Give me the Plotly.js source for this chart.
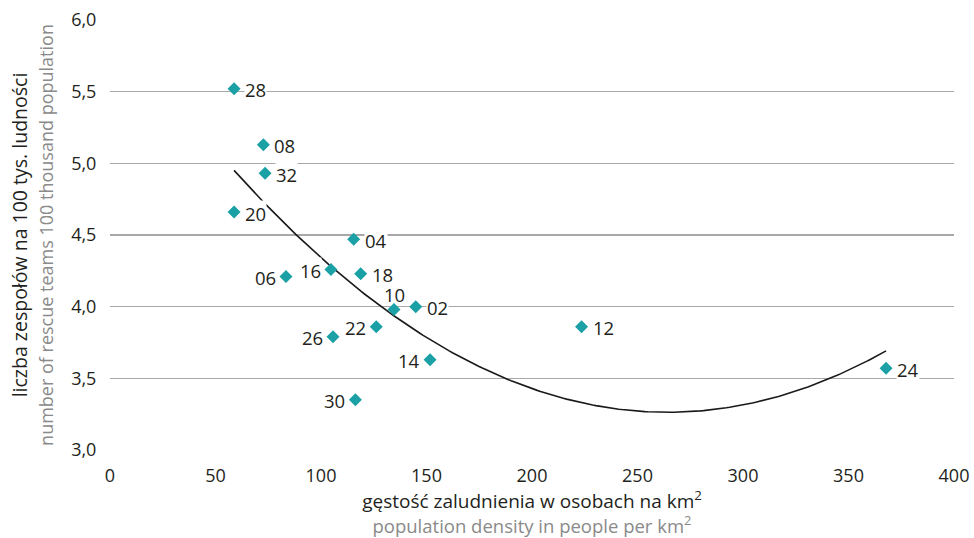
<!DOCTYPE html>
<html>
<head>
<meta charset="utf-8">
<script src="https://cdn.plot.ly/plotly-3.0.1.min.js"></script>
<style>html,body{margin:0;padding:0;background:#fff;}#chart{width:974px;height:538px;}</style>
</head>
<body>
<div id="chart"></div>
<script>
// ---- data ----
const regionIds = ['28','08','32','20','04','06','16','18','10','02','22','26','14','30','12','24'];
const density   = [58.8, 72.7, 73.5, 58.8, 115.5, 83.4, 104.7, 118.8, 134.6, 144.9, 126.2, 105.7, 151.7, 116.3, 223.5, 367.8];
const teamsPer100k = [5.52, 5.13, 4.93, 4.66, 4.47, 4.21, 4.26, 4.23, 3.98, 4.00, 3.86, 3.79, 3.63, 3.35, 3.86, 3.57];
const xTickVals = [0, 50, 100, 150, 200, 250, 300, 350, 400];
const yTickVals = [3.0, 3.5, 4.0, 4.5, 5.0, 5.5, 6.0];

// ---- label placement (style, not data) ----
const leftLabels = new Set(['06','16','22','26','14','30']);
const topLabels = new Set(['10']);

// ---- quadratic least-squares trendline ----
function quadFit(xs, ys) {
  const n = xs.length;
  let s = [0,0,0,0,0], t = [0,0,0];
  for (let i = 0; i < n; i++) {
    const x = xs[i], y = ys[i];
    let p = 1;
    for (let k = 0; k < 5; k++) { s[k] += p; p *= x; }
    t[0] += y; t[1] += y * x; t[2] += y * x * x;
  }
  const A = [[s[0], s[1], s[2], t[0]], [s[1], s[2], s[3], t[1]], [s[2], s[3], s[4], t[2]]];
  for (let i = 0; i < 3; i++) {
    let m = i;
    for (let r = i + 1; r < 3; r++) if (Math.abs(A[r][i]) > Math.abs(A[m][i])) m = r;
    [A[i], A[m]] = [A[m], A[i]];
    for (let r = 0; r < 3; r++) {
      if (r === i) continue;
      const f = A[r][i] / A[i][i];
      for (let c = i; c < 4; c++) A[r][c] -= f * A[i][c];
    }
  }
  return [A[0][3] / A[0][0], A[1][3] / A[1][1], A[2][3] / A[2][2]];
}
const coef = quadFit(density, teamsPer100k);
const xmin = Math.min(...density), xmax = Math.max(...density);
const trendX = [], trendY = [];
for (let i = 0; i <= 200; i++) {
  const x = xmin + (xmax - xmin) * i / 200;
  trendX.push(x);
  trendY.push(coef[0] + coef[1] * x + coef[2] * x * x);
}

const FONT = 'Open Sans, Noto Sans, sans-serif';
const DARK = '#231f20';
const GREY = '#8a8a8a';
const TEAL = '#1aa0a5';

const traces = [
  { x: trendX, y: trendY, mode: 'lines', line: { color: '#1a1a1a', width: 1.6 }, hoverinfo: 'skip', showlegend: false },
  { x: density, y: teamsPer100k, mode: 'markers', marker: { symbol: 'diamond', size: 10, color: TEAL },
    text: regionIds, hoverinfo: 'text+x+y', showlegend: false }
];

const annotations = regionIds.map((id, i) => {
  const a = { x: density[i], y: teamsPer100k[i], xref: 'x', yref: 'y', text: id, showarrow: false,
    font: { family: FONT, size: 18.5, color: DARK }, bgcolor: '#ffffff', borderpad: 0 };
  if (topLabels.has(id)) { a.xanchor = 'center'; a.yanchor = 'bottom'; a.yshift = 2; a.bgcolor = 'rgba(0,0,0,0)'; }
  else if (leftLabels.has(id)) { a.xanchor = 'right'; a.yanchor = 'middle'; a.xshift = -9; a.yshift = -1; }
  else { a.xanchor = 'left'; a.yanchor = 'middle'; a.xshift = 10; a.yshift = -1; }
  return a;
});

const layout = {
  width: 974, height: 538,
  margin: { l: 110, r: 20, t: 20, b: 88 },
  paper_bgcolor: '#ffffff', plot_bgcolor: '#ffffff',
  separators: ', ',
  font: { family: FONT, size: 18, color: DARK },
  showlegend: false,
  xaxis: {
    range: [0, 400], tickvals: xTickVals, tickformat: 'd',
    showgrid: false, zeroline: false, showline: false,
    ticks: 'outside', ticklen: 9, tickcolor: 'rgba(0,0,0,0)',
    tickfont: { family: FONT, size: 18, color: DARK },
    title: { text: 'gęstość zaludnienia w osobach na km<sup>2</sup><br><span style="color:' + GREY + ';font-size:18.5px">population density in people per km<sup>2</sup></span>',
             font: { family: FONT, size: 19, color: DARK }, standoff: 8 }
  },
  yaxis: {
    range: [3.0, 6.0], tickvals: yTickVals, tickformat: '.1f',
    showgrid: true, gridcolor: '#a8a8a8', gridwidth: 1.3, zeroline: false, showline: false,
    ticks: 'outside', ticklen: 9, tickcolor: 'rgba(0,0,0,0)',
    tickfont: { family: FONT, size: 18, color: DARK },
    title: { text: 'liczba zespołów na 100 tys. ludności<br><span style="color:' + GREY + ';font-size:18px">number of rescue teams 100 thousand population</span>',
             font: { family: FONT, size: 19.5, color: DARK }, standoff: 12 }
  },
  annotations: annotations
};

Plotly.newPlot('chart', traces, layout, { displayModeBar: false, staticPlot: true });
</script>
</body>
</html>
